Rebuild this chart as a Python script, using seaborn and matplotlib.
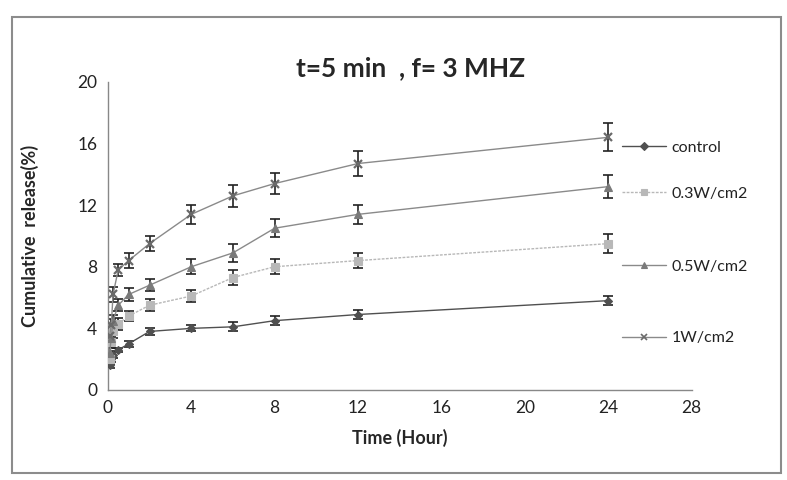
import numpy as np
import pandas as pd
import matplotlib
matplotlib.use("Agg")
import matplotlib.pyplot as plt
from matplotlib.patches import Rectangle
from matplotlib.lines import Line2D
import seaborn as sns

# ---- data ----
time_h = [0.083, 0.167, 0.25, 0.5, 1, 2, 4, 6, 8, 12, 24]
series_names = ["control", "0.3W/cm2", "0.5W/cm2", "1W/cm2"]
control = [1.6, 2.0, 2.3, 2.6, 3.0, 3.8, 4.0, 4.1, 4.5, 4.9, 5.8]
w03 = [2.0, 3.1, 3.8, 4.3, 4.8, 5.5, 6.1, 7.3, 8.0, 8.4, 9.5]
w05 = [2.4, 3.4, 4.5, 5.5, 6.2, 6.8, 8.0, 8.9, 10.5, 11.4, 13.2]
w1 = [3.5, 4.2, 6.2, 7.8, 8.4, 9.5, 11.4, 12.6, 13.4, 14.7, 16.4]
err_control = [0.2, 0.2, 0.2, 0.15, 0.2, 0.2, 0.2, 0.3, 0.3, 0.3, 0.3]
err_w03 = [0.3, 0.4, 0.4, 0.4, 0.3, 0.4, 0.4, 0.5, 0.5, 0.5, 0.6]
err_w05 = [0.3, 0.4, 0.4, 0.4, 0.4, 0.4, 0.5, 0.6, 0.6, 0.6, 0.75]
err_w1 = [0.4, 0.4, 0.5, 0.4, 0.5, 0.5, 0.6, 0.7, 0.7, 0.8, 0.9]
x_ticks = [0, 4, 8, 12, 16, 20, 24, 28]
y_ticks = [0, 4, 8, 12, 16, 20]

values = [control, w03, w05, w1]
errors = [err_control, err_w03, err_w05, err_w1]

rows = []
for name, vals, errs in zip(series_names, values, errors):
    for t, v, e in zip(time_h, vals, errs):
        rows.append({"Time": t, "Release": v, "err": e, "Series": name})
df = pd.DataFrame(rows)

sns.set_style("white")
plt.rcParams['font.family'] = ['Lato', 'DejaVu Sans']

fig = plt.figure(figsize=(7.87, 4.80), dpi=100)
ax = fig.add_axes([0.137, 0.1875, 0.742, 0.642])

palette = {"control": "#505050", "0.3W/cm2": "#b8b8b8",
           "0.5W/cm2": "#7a7a7a", "1W/cm2": "#6a6a6a"}
markers = {"control": "D", "0.3W/cm2": "s", "0.5W/cm2": "^", "1W/cm2": "x"}
msize = {"control": 4, "0.3W/cm2": 5.5, "0.5W/cm2": 6, "1W/cm2": 6}
lstyle = {"control": "-", "0.3W/cm2": (0, (2, 1)), "0.5W/cm2": "-", "1W/cm2": "-"}
lcolor = {"control": "#505050", "0.3W/cm2": "#b8b8b8",
          "0.5W/cm2": "#8a8a8a", "1W/cm2": "#8a8a8a"}

for name in series_names:
    sub = df[df["Series"] == name]
    ax.errorbar(sub["Time"], sub["Release"], yerr=sub["err"], fmt="none",
                ecolor="#222222", elinewidth=1.2, capsize=3.5, capthick=1.2, zorder=2)
    sns.lineplot(data=sub, x="Time", y="Release", ax=ax, color=lcolor[name],
                 marker=markers[name], markersize=msize[name], linewidth=1.0,
                 linestyle=lstyle[name], markeredgecolor=palette[name],
                 markerfacecolor=palette[name], markeredgewidth=1.6 if name == "1W/cm2" else 0.8,
                 label=name, zorder=3, legend=False)

def handle(n):
    return Line2D([0], [0], color=lcolor[n], marker=markers[n], markersize=4,
                  linewidth=1.0, linestyle=lstyle[n], markeredgecolor=palette[n],
                  markerfacecolor=palette[n], markeredgewidth=1.2 if n == "1W/cm2" else 0.8)

leg_kw = dict(loc="center left", frameon=False, fontsize=11.5,
              handlelength=2.8, handletextpad=0.3, borderpad=0, borderaxespad=0)
leg1 = fig.legend([handle(n) for n in series_names[:2]], series_names[:2],
                  bbox_to_anchor=(0.79, 0.644), labelspacing=2.0, **leg_kw)
leg2 = fig.legend([handle(n) for n in series_names[2:]], series_names[2:],
                  bbox_to_anchor=(0.79, 0.37), labelspacing=3.6, **leg_kw)
for lg in (leg1, leg2):
    for t in lg.get_texts():
        t.set_color("#222222")

ax.set_xlim(0, 28)
ax.set_ylim(0, 20)
ax.set_xticks(x_ticks)
ax.set_yticks(y_ticks)
ax.tick_params(axis="both", labelsize=12.5, colors="#222222", length=4,
               direction="out", width=0.8)
ax.tick_params(axis="x", color="#888888")
ax.tick_params(axis="y", color="#888888")
sns.despine(ax=ax)
for s in ["left", "bottom"]:
    ax.spines[s].set_color("#888888")
    ax.spines[s].set_linewidth(1.0)

ax.set_xlabel("Time (Hour)", fontsize=13, fontweight="bold", labelpad=9)
ax.set_ylabel("Cumulative  release(%)", fontsize=13, fontweight="bold", labelpad=28)
fig.text(0.522, 0.858, "t=5 min  , f= 3 MHZ", ha="center", va="center",
         fontsize=19, fontweight="bold")

# outer frame
fig.patches.append(Rectangle((0.015, 0.015), 0.977, 0.95, transform=fig.transFigure,
                             fill=False, edgecolor="#8c8c8c", linewidth=1.5))

fig.savefig("out.png", dpi=100)
